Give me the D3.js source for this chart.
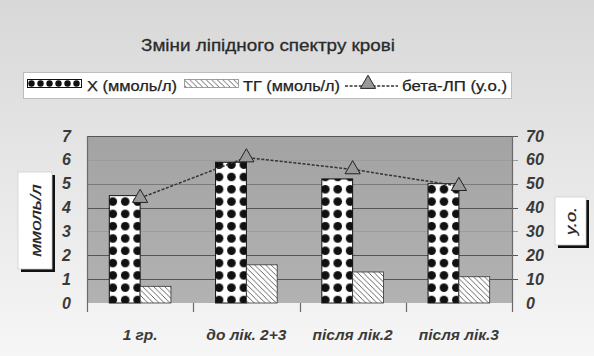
<!DOCTYPE html>
<html>
<head>
<meta charset="utf-8">
<script src="https://cdn.jsdelivr.net/npm/d3@7/dist/d3.min.js"></script>
<style>
  html, body { margin: 0; padding: 0; background: #fff; }
  svg { display: block; }
  text { font-family: "Liberation Sans", Arial, sans-serif; }
</style>
</head>
<body>
<svg id="chart" width="594" height="356"></svg>
<script>
// Categories and series
const categories = ["1 гр.", "до лік. 2+3", "після лік.2", "після лік.3"];
const cholesterol = [4.5, 5.9, 5.2, 5.0];      // X (ммоль/л)
const triglycerides = [0.7, 1.6, 1.3, 1.1];    // ТГ (ммоль/л)
const betaLP = [44, 61, 56, 49];               // бета-ЛП (у.о.)
const leftTicks = [0, 1, 2, 3, 4, 5, 6, 7];
const rightTicks = [0, 10, 20, 30, 40, 50, 60, 70];
const seriesNames = ["X (ммоль/л)", "ТГ (ммоль/л)", "бета-ЛП (у.о.)"];
const titleText = "Зміни ліпідного спектру крові";
const leftAxisTitle = "ммоль/л";
const rightAxisTitle = "у.о.";

const W = 594, H = 356;
const plot = { left: 87, right: 512, top: 136, bottom: 303 };

const svg = d3.select("#chart");
const defs = svg.append("defs");

// Scales
const x = d3.scaleBand().domain(categories).range([plot.left, plot.right]);
const xInner = d3.scaleBand().domain([0, 1])
  .range([x.bandwidth() * 0.21, x.bandwidth() * 0.79]);
const yL = d3.scaleLinear().domain([0, 7]).range([plot.bottom, plot.top]);
const yR = d3.scaleLinear().domain([0, 70]).range([plot.bottom, plot.top]);

// Backgrounds
const bgGrad = defs.append("linearGradient").attr("id", "bgGrad")
  .attr("x1", 0).attr("y1", 0).attr("x2", 0).attr("y2", 1);
bgGrad.append("stop").attr("offset", "0%").attr("stop-color", "#d8d8d8");
bgGrad.append("stop").attr("offset", "100%").attr("stop-color", "#f6f6f6");

const plotGrad = defs.append("linearGradient").attr("id", "plotGrad")
  .attr("x1", 0).attr("y1", 0).attr("x2", 0).attr("y2", 1);
plotGrad.append("stop").attr("offset", "0%").attr("stop-color", "#a3a3a3");
plotGrad.append("stop").attr("offset", "100%").attr("stop-color", "#b2b2b2");

// Dotted fill for the X series (tile origin set so dots hug the bar edges)
const dotW = 12.4, dotH = 12.3;
const dots = defs.append("pattern").attr("id", "dots")
  .attr("patternUnits", "userSpaceOnUse")
  .attr("x", xInner(0) - 2.7).attr("y", plot.bottom - 3 - dotH / 2)
  .attr("width", dotW).attr("height", dotH);
dots.append("rect").attr("width", dotW).attr("height", dotH).attr("fill", "#fff");
dots.append("circle").attr("cx", dotW / 2).attr("cy", dotH / 2).attr("r", 4.3).attr("fill", "#111");

// Smaller tile for the legend swatch
const dotsSmall = defs.append("pattern").attr("id", "dotsSmall")
  .attr("patternUnits", "userSpaceOnUse").attr("x", 27).attr("y", 79)
  .attr("width", 9).attr("height", 9);
dotsSmall.append("rect").attr("width", 9).attr("height", 9).attr("fill", "#fff");
dotsSmall.append("circle").attr("cx", 4.5).attr("cy", 4.5).attr("r", 3.2).attr("fill", "#111");

// Diagonal hatching for the TG series
const hatch = defs.append("pattern").attr("id", "hatch")
  .attr("patternUnits", "userSpaceOnUse").attr("width", 5.5).attr("height", 5.5);
hatch.append("rect").attr("width", 5.5).attr("height", 5.5).attr("fill", "#fff");
hatch.append("path").attr("d", "M-1,-1 L6.5,6.5 M-1,4.5 L1,6.5 M4.5,-1 L6.5,1")
  .attr("stroke", "#555").attr("stroke-width", 0.9);

svg.append("rect").attr("width", W).attr("height", H).attr("fill", "url(#bgGrad)");

// Plot area
svg.append("rect")
  .attr("x", plot.left).attr("y", plot.top)
  .attr("width", plot.right - plot.left).attr("height", plot.bottom - plot.top)
  .attr("fill", "url(#plotGrad)");

// Gridlines (continuing out past the right axis as its tick marks)
const faint = new Set([3, 6]);
svg.append("g").selectAll("line").data(leftTicks.filter(d => d > 0)).join("line")
  .attr("x1", plot.left).attr("x2", plot.right + 6)
  .attr("y1", d => Math.round(yL(d)) + 0.5).attr("y2", d => Math.round(yL(d)) + 0.5)
  .attr("stroke", d => faint.has(d) ? "#9c9c9c" : (d === 5 ? "#7a7a7a" : "#555"))
  .attr("stroke-width", 1.2);

// Bars
const groups = svg.append("g").selectAll("g").data(categories).join("g")
  .attr("transform", d => `translate(${x(d)},0)`);
groups.append("rect")
  .attr("x", xInner(0)).attr("width", xInner.bandwidth())
  .attr("y", (d, i) => yL(cholesterol[i]))
  .attr("height", (d, i) => yL(0) - yL(cholesterol[i]))
  .attr("fill", "url(#dots)").attr("stroke", "#111").attr("stroke-width", 1);
groups.append("rect")
  .attr("x", xInner(1)).attr("width", xInner.bandwidth())
  .attr("y", (d, i) => yL(triglycerides[i]))
  .attr("height", (d, i) => yL(0) - yL(triglycerides[i]))
  .attr("fill", "url(#hatch)").attr("stroke", "#333").attr("stroke-width", 0.8);

// Axes lines and category ticks
const axisColor = "#6a6a6a";
svg.append("line").attr("x1", plot.left + 0.5).attr("x2", plot.left + 0.5)
  .attr("y1", plot.top).attr("y2", plot.bottom + 9).attr("stroke", axisColor).attr("stroke-width", 1.2);
svg.append("line").attr("x1", plot.right + 0.5).attr("x2", plot.right + 0.5)
  .attr("y1", plot.top).attr("y2", plot.bottom + 9).attr("stroke", axisColor).attr("stroke-width", 1.2);
svg.append("g").selectAll("line").data(categories.slice(1)).join("line")
  .attr("x1", d => Math.round(x(d)) + 0.5).attr("x2", d => Math.round(x(d)) + 0.5)
  .attr("y1", plot.bottom).attr("y2", plot.bottom + 9)
  .attr("stroke", axisColor).attr("stroke-width", 1.2);

// Tick labels
const tickStyle = (sel, size) => sel.attr("font-size", size).attr("font-weight", "bold")
  .attr("font-style", "italic").attr("fill", "#3a3a3a");
svg.append("g").selectAll("text").data(leftTicks).join("text")
  .attr("x", 71).attr("y", d => yL(d) + 5.5).attr("text-anchor", "end")
  .text(d => d).call(tickStyle, 16);
svg.append("g").selectAll("text").data(rightTicks).join("text")
  .attr("x", 526).attr("y", d => yR(d) + 5.5).attr("text-anchor", "start")
  .text(d => d).call(tickStyle, 16);
svg.append("g").selectAll("text").data(categories).join("text")
  .attr("x", d => x(d) + x.bandwidth() / 2).attr("y", 340).attr("text-anchor", "middle")
  .text(d => d).call(tickStyle, 15.5);

// бета-ЛП line with triangle markers
const lineGen = d3.line()
  .x((d, i) => x(categories[i]) + x.bandwidth() / 2)
  .y(d => yR(d));
svg.append("path").datum(betaLP).attr("d", lineGen)
  .attr("fill", "none").attr("stroke", "#333").attr("stroke-width", 1.5)
  .attr("stroke-dasharray", "3,1.6");
const tri = d3.symbol().type(d3.symbolTriangle).size(100);
svg.append("g").selectAll("path").data(betaLP).join("path")
  .attr("d", tri)
  .attr("transform", (d, i) => `translate(${x(categories[i]) + x.bandwidth() / 2},${yR(d)})`)
  .attr("fill", "#999").attr("stroke", "#222").attr("stroke-width", 1);

// Title
svg.append("text").attr("x", 268).attr("y", 51).attr("text-anchor", "middle")
  .attr("font-size", 17).attr("fill", "#2a2a2a")
  .attr("stroke", "#2a2a2a").attr("stroke-width", 0.3)
  .attr("textLength", 254).attr("lengthAdjust", "spacingAndGlyphs")
  .text(titleText);

// Legend
const lg = svg.append("g");
lg.append("rect").attr("x", 23.5).attr("y", 72.5).attr("width", 488).attr("height", 26)
  .attr("fill", "#fff").attr("stroke", "#bdbdbd").attr("stroke-width", 1);
lg.append("rect").attr("x", 27.5).attr("y", 79.5).attr("width", 54).attr("height", 8)
  .attr("fill", "url(#dotsSmall)").attr("stroke", "#111").attr("stroke-width", 1);
lg.append("rect").attr("x", 184.5).attr("y", 79.5).attr("width", 54).attr("height", 8)
  .attr("fill", "url(#hatch)").attr("stroke", "#888").attr("stroke-width", 0.8);
lg.append("line").attr("x1", 345).attr("x2", 398).attr("y1", 86).attr("y2", 86)
  .attr("stroke", "#333").attr("stroke-width", 1.5).attr("stroke-dasharray", "3,1.6");
lg.append("path").attr("d", tri).attr("transform", "translate(368,84)")
  .attr("fill", "#999").attr("stroke", "#222").attr("stroke-width", 1);
const legendText = [
  { t: seriesNames[0], x: 87, w: 90 },
  { t: seriesNames[1], x: 243, w: 97 },
  { t: seriesNames[2], x: 402, w: 105 }
];
lg.selectAll("text.lt").data(legendText).join("text").attr("class", "lt")
  .attr("x", d => d.x).attr("y", 90.5).attr("font-size", 15).attr("fill", "#222")
  .attr("stroke", "#222").attr("stroke-width", 0.25)
  .attr("textLength", d => d.w).attr("lengthAdjust", "spacingAndGlyphs")
  .text(d => d.t);

// Axis titles in shadowed boxes
function axisTitleBox(bx, by, bw, bh, label, len) {
  const g = svg.append("g");
  g.append("rect").attr("x", bx + 3).attr("y", by + 3).attr("width", bw).attr("height", bh)
    .attr("fill", "#111");
  g.append("rect").attr("x", bx).attr("y", by).attr("width", bw).attr("height", bh)
    .attr("fill", "#fff").attr("stroke", "#cfcfcf").attr("stroke-width", 0.8);
  g.append("text")
    .attr("transform", `translate(${bx + bw / 2 + 5.5},${by + bh / 2}) rotate(-90)`)
    .attr("text-anchor", "middle").attr("font-size", 15).attr("font-style", "italic")
    .attr("fill", "#222").attr("stroke", "#222").attr("stroke-width", 0.25)
    .attr("textLength", len).attr("lengthAdjust", "spacingAndGlyphs")
    .text(label);
}
axisTitleBox(18, 172, 34, 97, leftAxisTitle, 72);
axisTitleBox(555, 197, 31, 48, rightAxisTitle, 28);
</script>
</body>
</html>
